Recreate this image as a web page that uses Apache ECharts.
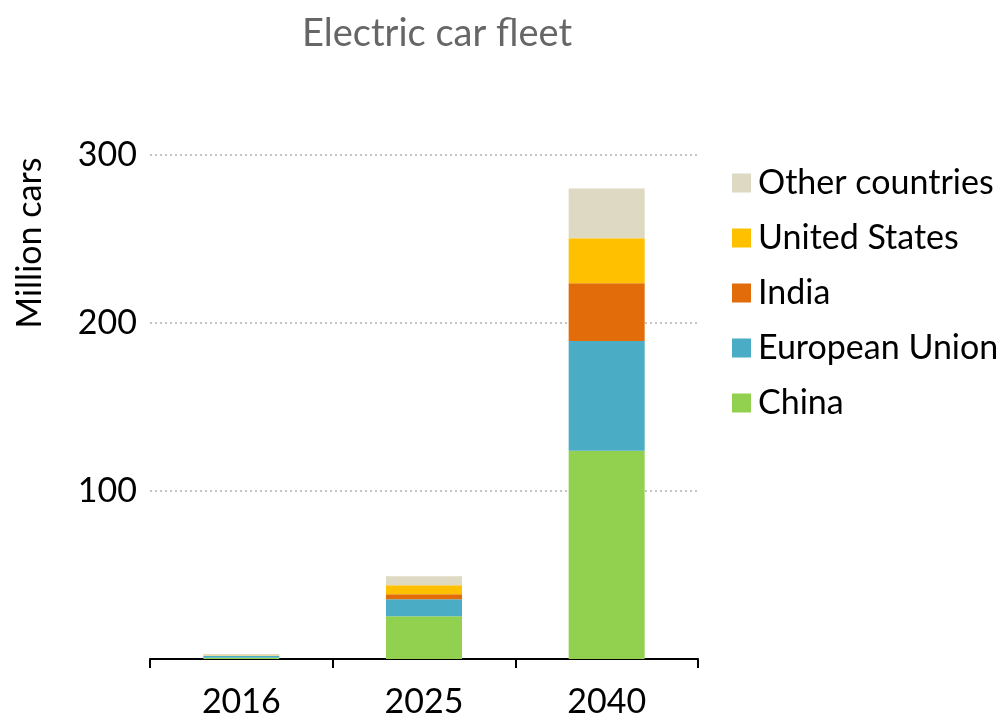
<!DOCTYPE html>
<html>
<head>
<meta charset="utf-8">
<script src="https://cdn.jsdelivr.net/npm/echarts@6/dist/echarts.min.js"></script>
<style>html,body{margin:0;padding:0;background:#fff;}#c{width:1005px;height:719px;}</style>
</head>
<body>
<div id="c"></div>
<script>
const categories = ['2016', '2025', '2040'];
const china = [0.8, 25.5, 124];
const eu = [1.0, 10.1, 65.3];
const india = [0.02, 3.0, 34.4];
const us = [0.2, 5.3, 26.7];
const other = [0.9, 5.4, 29.7];
const yTicks = [0, 100, 200, 300];

const FONT = 'Lato, "Noto Sans", sans-serif';
const chart = echarts.init(document.getElementById('c'), null, {renderer: 'canvas'});
const mk = (name, data, color) => ({
  name, type: 'bar', stack: 'fleet', data, barWidth: 76,
  itemStyle: {color}, emphasis: {disabled: true}
});
chart.setOption({
  animation: false,
  backgroundColor: '#ffffff',
  title: {
    text: 'Electric car fleet', left: 432, top: 10, textAlign: 'center',
    textStyle: {fontFamily: FONT, fontSize: 38, fontWeight: 'normal', color: '#666666'}
  },
  graphic: [{
    type: 'text', x: 30, y: 243, rotation: Math.PI / 2,
    style: {text: 'Million cars', font: '34px ' + FONT, fill: '#000', textAlign: 'center', textVerticalAlign: 'middle'}
  }],
  legend: {
    orient: 'vertical', left: 727, top: 160, itemWidth: 19, itemHeight: 19, itemGap: 19,
    icon: 'rect',
    data: ['Other countries', 'United States', 'India', 'European Union', 'China'],
    textStyle: {fontFamily: FONT, fontSize: 34, color: '#000', lineHeight: 36, padding: [0, 0, 0, 2]}
  },
  grid: {left: 150, right: 307, top: 155, bottom: 58},
  xAxis: {
    type: 'category', data: categories,
    axisLine: {lineStyle: {color: '#000', width: 2}},
    axisTick: {show: true, inside: false, length: 9, alignWithLabel: false, lineStyle: {color: '#000', width: 2}},
    axisLabel: {fontFamily: FONT, fontSize: 34, color: '#000', margin: 26}
  },
  yAxis: {
    type: 'value', min: yTicks[0], max: yTicks[yTicks.length - 1], interval: 100,
    axisLine: {show: false}, axisTick: {show: false},
    axisLabel: {fontFamily: FONT, fontSize: 34, color: '#000', margin: 13,
      formatter: v => (v === 0 ? '' : String(v))},
    splitLine: {lineStyle: {color: '#c4c4c4', width: 2, type: [2, 3]}}
  },
  series: [
    mk('China', china, '#92d050'),
    mk('European Union', eu, '#4bacc6'),
    mk('India', india, '#e36c0a'),
    mk('United States', us, '#ffc000'),
    mk('Other countries', other, '#ddd9c3')
  ]
});
</script>
</body>
</html>
